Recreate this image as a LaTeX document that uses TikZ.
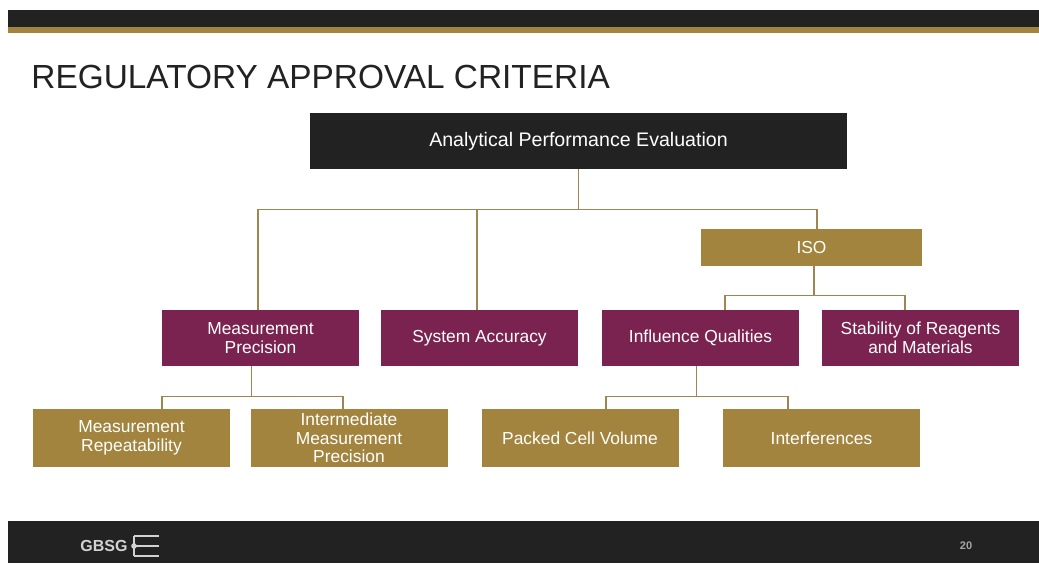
\documentclass[tikz,border=0pt]{standalone}
\usepackage{fontspec}
\setmainfont{Liberation Sans}
\definecolor{weinrot}{HTML}{7B2350}
\definecolor{goldton}{HTML}{A3843F}
\definecolor{linienfarbe}{HTML}{9E8552}
\definecolor{dunkel}{HTML}{222222}
\begin{document}
\begin{tikzpicture}[x=0.5pt,y=-0.5pt,
    kasten/.style={rectangle,minimum width=98.5pt,minimum height=28pt,inner sep=0pt,
      text=white,align=center,font=\fontsize{8.7}{9.3}\selectfont},
    rotkasten/.style={kasten,fill=weinrot},
    goldkasten/.style={kasten,fill=goldton},
    linie/.style={draw=linienfarbe,line width=0.75pt}]
    \useasboundingbox[fill=white] (0,0) rectangle (1039,563);
    % Kopfzeile
    \fill[dunkel] (8,10) rectangle (1039,27);
    \fill[goldton] (8,27) rectangle (1039,33);
    \node[anchor=base west,inner sep=0pt,font=\fontsize{16.7}{18}\selectfont,text=dunkel] (titel) at (31,88) {REGULATORY APPROVAL CRITERIA};
    % Kaesten
    \node[kasten,fill=dunkel,minimum width=268.5pt,font=\fontsize{9.8}{11}\selectfont] (ape) at (578.5,141) {Analytical Performance Evaluation};
    \node[goldkasten,minimum width=110.5pt,minimum height=18.5pt] (iso) at (811.5,247.5) {ISO};
    \def\zweite{338}
    \foreach \nm/\xx/\txt in {mp/260.5/{Measurement\\Precision},sa/479.5/{System Accuracy},
        iq/700.5/{Influence Qualities},st/920.5/{Stability of Reagents\\and Materials}}{
      \node[rotkasten] (\nm) at (\xx,\zweite) {\txt};
    }
    \def\dritte{438}
    \foreach \nm/\xx/\txt in {mr/131.5/{Measurement\\Repeatability},imp/349/{Intermediate\\Measurement\\Precision},
        pcv/580/{Packed Cell Volume},intf/821.5/{Interferences}}{
      \node[goldkasten,minimum height=29pt] (\nm) at (\xx,\dritte) {\txt};
    }
    % Verbindungen
    \draw[linie] (ape.south) -- ++(0,40) coordinate (knoten1);
    \draw[linie] ([xshift=-1.25pt]mp.north) |- (knoten1) -| ([xshift=2.75pt]iso.north);
    \draw[linie] ([xshift=-1.25pt]sa.north) |- (knoten1);
    \draw[linie] ([xshift=1.25pt]iso.south) -- ++(0,29) coordinate (knoten2);
    \draw[linie] ([xshift=12.25pt]iq.north) |- (knoten2) -| ([xshift=-7.75pt]st.north);
    \draw[linie] ([xshift=-4.5pt]mp.south) -- ++(0,30) coordinate (knoten3);
    \draw[linie] ([xshift=15.25pt]mr.north) |- (knoten3) -| ([xshift=-3pt]imp.north);
    \draw[linie] ([xshift=-2pt]iq.south) -- ++(0,30) coordinate (knoten4);
    \draw[linie] ([xshift=13pt]pcv.north) |- (knoten4) -| ([xshift=-16.75pt]intf.north);
    % Fusszeile
    \fill[dunkel] (8,521) rectangle (1039,563);
    \node[anchor=west,inner sep=0pt,font=\bfseries\fontsize{8}{8}\selectfont,text=gray!35] (gbsg) at (80,546) {GBSG};
    \draw[gray!35,line width=1.1pt] (134,536) -- (134,556) (134,536) -- (159,536)
      (134,546) -- (159,546) (134,556) -- (159,556);
    \fill[gray!35] (134,546) circle (1.4pt);
    \node[font=\bfseries\fontsize{5.5}{6}\selectfont,text=gray!70] (seite) at (966,546) {20};
\end{tikzpicture}
\end{document}
